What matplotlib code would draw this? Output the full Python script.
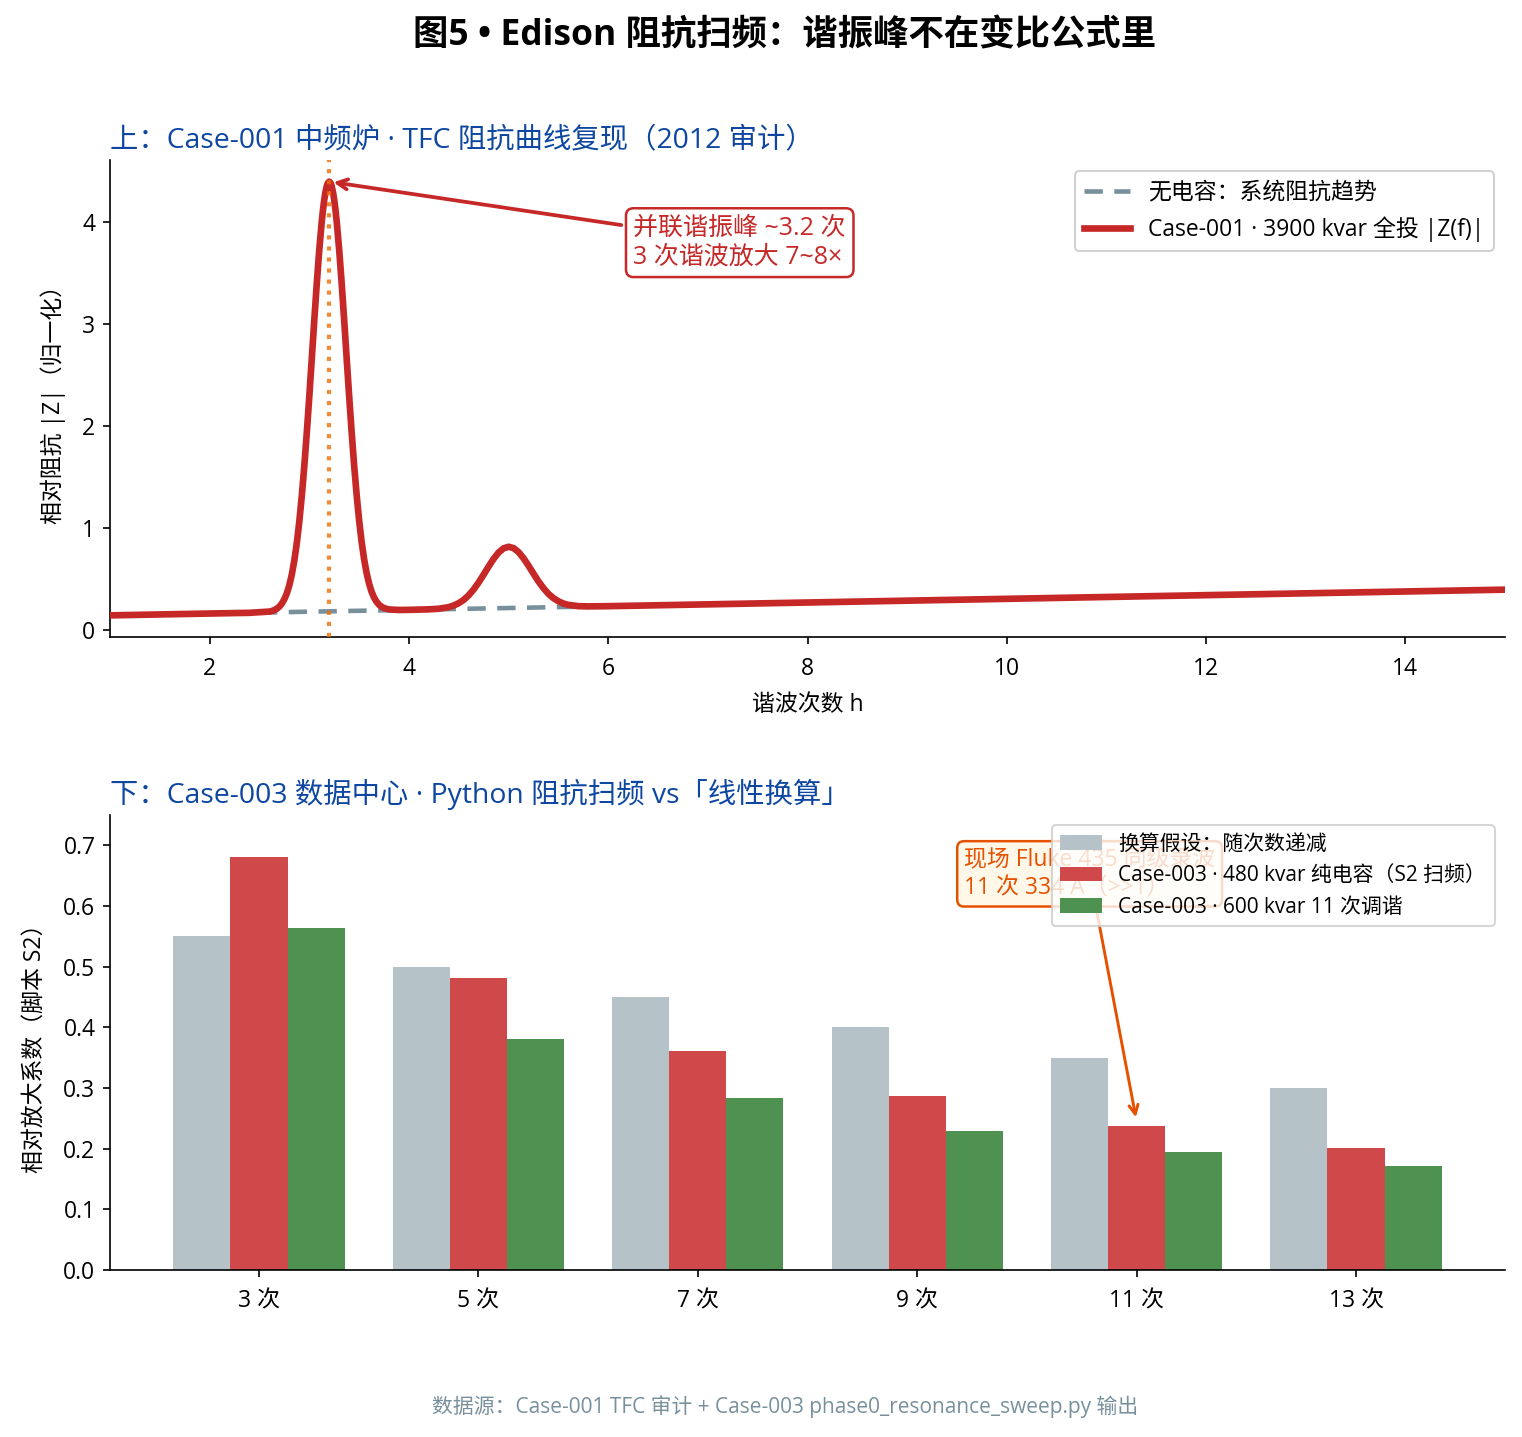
import matplotlib
matplotlib.use("Agg")
import matplotlib.pyplot as plt
import numpy as np

plt.rcParams['font.family'] = ['Open Sans', 'Noto Sans CJK SC', 'DejaVu Sans']
plt.rcParams['axes.unicode_minus'] = False

# ---------------- data ----------------
# top: impedance sweep
h_curve = [1.0, 1.5, 2.0, 2.4, 2.6, 2.625, 2.65, 2.675, 2.7, 2.725, 2.75, 2.775, 2.8, 2.825,
           2.85, 2.875, 2.9, 2.925, 2.95, 2.975, 3.0, 3.025, 3.05, 3.075, 3.1, 3.125,
           3.1375, 3.15, 3.1625, 3.175, 3.1875, 3.2, 3.2125, 3.225, 3.2375, 3.25, 3.2625,
           3.275, 3.3, 3.325, 3.35, 3.375, 3.4, 3.425, 3.45, 3.475, 3.5, 3.525, 3.55,
           3.575, 3.6, 3.625, 3.65, 3.675, 3.7, 3.725, 3.75, 3.775, 3.8, 3.9, 4.0, 4.2,
           4.3, 4.4, 4.45, 4.5, 4.55, 4.6, 4.65, 4.7, 4.75, 4.8, 4.85, 4.9, 4.95, 5.0,
           5.05, 5.1, 5.15, 5.2, 5.25, 5.3, 5.35, 5.4, 5.45, 5.5, 5.55, 5.6, 5.7, 5.8,
           6.0, 7.0, 8.0, 9.0, 10.0, 11.0, 12.0, 13.0, 14.0, 15.0]
z_curve = [0.148, 0.157, 0.166, 0.173, 0.185, 0.191, 0.200, 0.214, 0.234, 0.264, 0.307,
           0.365, 0.444, 0.550, 0.687, 0.859, 1.069, 1.321, 1.611, 1.938, 2.291, 2.663,
           3.038, 3.398, 3.727, 4.006, 4.122, 4.219, 4.296, 4.352, 4.386, 4.398, 4.387,
           4.353, 4.297, 4.221, 4.124, 4.009, 3.730, 3.403, 3.043, 2.669, 2.298, 1.946,
           1.620, 1.331, 1.080, 0.870, 0.700, 0.564, 0.459, 0.380, 0.323, 0.281, 0.252,
           0.233, 0.220, 0.212, 0.206, 0.201, 0.202, 0.207, 0.213, 0.229, 0.245, 0.268,
           0.300, 0.345, 0.402, 0.471, 0.548, 0.627, 0.702, 0.764, 0.805, 0.820, 0.807,
           0.768, 0.708, 0.635, 0.557, 0.481, 0.415, 0.359, 0.317, 0.286, 0.264, 0.251,
           0.238, 0.236, 0.238, 0.256, 0.274, 0.292, 0.310, 0.328, 0.346, 0.364, 0.382,
           0.400]
h_trend = [1, 3, 5, 7, 9, 11, 13, 15]
z_trend = [0.148, 0.184, 0.220, 0.256, 0.292, 0.328, 0.364, 0.400]
h_res = 3.2
z_peak = 4.398

# bottom: amplification factors
categories = ['3 次', '5 次', '7 次', '9 次', '11 次', '13 次']
linear_assumption = [0.55, 0.50, 0.45, 0.40, 0.35, 0.30]
pure_cap_480 = [0.681, 0.482, 0.361, 0.287, 0.238, 0.201]
tuned_600 = [0.564, 0.380, 0.284, 0.229, 0.195, 0.172]

# ---------------- figure ----------------
W, H = 1522, 1437
fig = plt.figure(figsize=(W / 150, H / 150), dpi=150)

def ax_rect(l, t, r, b):
    return [l / W, 1 - b / H, (r - l) / W, (b - t) / H]

ax1 = fig.add_axes(ax_rect(110, 160, 1505, 637))
ax2 = fig.add_axes(ax_rect(110, 815, 1505, 1270))

RED = '#c62828'
BLUE = '#0d47a1'

# top panel
ax1.plot(h_trend, z_trend, color='#78909c', lw=2.2, ls=(0, (4, 2.5)),
         label='无电容：系统阻抗趋势', zorder=2)
ax1.plot(h_curve, z_curve, color=RED, lw=3.2, solid_joinstyle='round',
         label='Case-001 · 3900 kvar 全投 |Z(f)|', zorder=3)
ax1.axvline(h_res, color='#ef6c00', lw=2, ls=':', alpha=0.8, zorder=4)
ax1.set_xlim(1, 15)
ax1.set_ylim(-0.064, 4.61)
ax1.set_xticks([2, 4, 6, 8, 10, 12, 14])
ax1.set_yticks([0, 1, 2, 3, 4])
ax1.tick_params(labelsize=11)
ax1.tick_params(axis='x', pad=6)
ax1.set_xlabel('谐波次数 h', fontsize=11, labelpad=6)
ax1.set_ylabel('相对阻抗 |Z|（归一化）', fontsize=11, labelpad=8)
ax1.set_title('上：Case-001 中频炉 · TFC 阻抗曲线复现（2012 审计）', loc='left',
              color=BLUE, fontsize=13.6)
ax1.annotate('并联谐振峰 ~3.2 次\n3 次谐波放大 7~8×', xy=(h_res, z_peak), xytext=(7.32, 3.8),
             ha='center', va='center', ma='left', fontsize=12, color=RED,
             bbox=dict(boxstyle='round,pad=0.3', fc='white', ec=RED, lw=1.2),
             arrowprops=dict(arrowstyle='->', color=RED, lw=1.8), zorder=6)
leg1 = ax1.legend(loc='upper right', fontsize=11, frameon=True, framealpha=0.9,
                  edgecolor='#cccccc')
for s in ['top', 'right']:
    ax1.spines[s].set_visible(False)

# bottom panel
x = np.arange(len(categories))
bw = 0.26
ax2.bar(x - bw, linear_assumption, bw, color='#b5c2c7', label='换算假设：随次数递减')
ax2.bar(x, pure_cap_480, bw, color='#cf484a', label='Case-003 · 480 kvar 纯电容（S2 扫频）')
ax2.bar(x + bw, tuned_600, bw, color='#4e9150', label='Case-003 · 600 kvar 11 次调谐')
ax2.set_xticks(x)
ax2.set_xticklabels(categories)
ax2.set_ylim(0, 0.75)
ax2.set_yticks([0.0, 0.1, 0.2, 0.3, 0.4, 0.5, 0.6, 0.7])
ax2.tick_params(labelsize=11)
ax2.tick_params(axis='x', pad=6)
ax2.set_ylabel('相对放大系数（脚本 S2）', fontsize=11, labelpad=8)
ax2.set_title('下：Case-003 数据中心 · Python 阻抗扫频 vs「线性换算」', loc='left',
              color=BLUE, fontsize=13.6)
ax2.annotate('现场 Fluke 435 同级录波\n11 次 334 A（>>1）', xy=(4, 0.245), xytext=(3.786, 0.653),
             ha='center', va='center', ma='left', fontsize=11, color='#e65100',
             bbox=dict(boxstyle='round,pad=0.3', fc='#fff8e8', ec='#e65100', lw=1.2),
             arrowprops=dict(arrowstyle='->', color='#e65100', lw=1.4), zorder=4)
leg2 = ax2.legend(loc='upper right', fontsize=10, frameon=True, framealpha=0.8,
                  edgecolor='#cccccc')
leg2.set_zorder(10)
for s in ['top', 'right']:
    ax2.spines[s].set_visible(False)

fig.text(785 / W, 1 - 36 / H, '图5 • Edison 阻抗扫频：谐振峰不在变比公式里', ha='center', va='center',
         fontsize=17, fontweight='bold')
fig.text(785 / W, 1 - 1407 / H,
         '数据源：Case-001 TFC 审计 + Case-003 phase0_resonance_sweep.py 输出',
         ha='center', va='center', fontsize=10, color='#78909c')

fig.savefig('out.png', dpi=150)
